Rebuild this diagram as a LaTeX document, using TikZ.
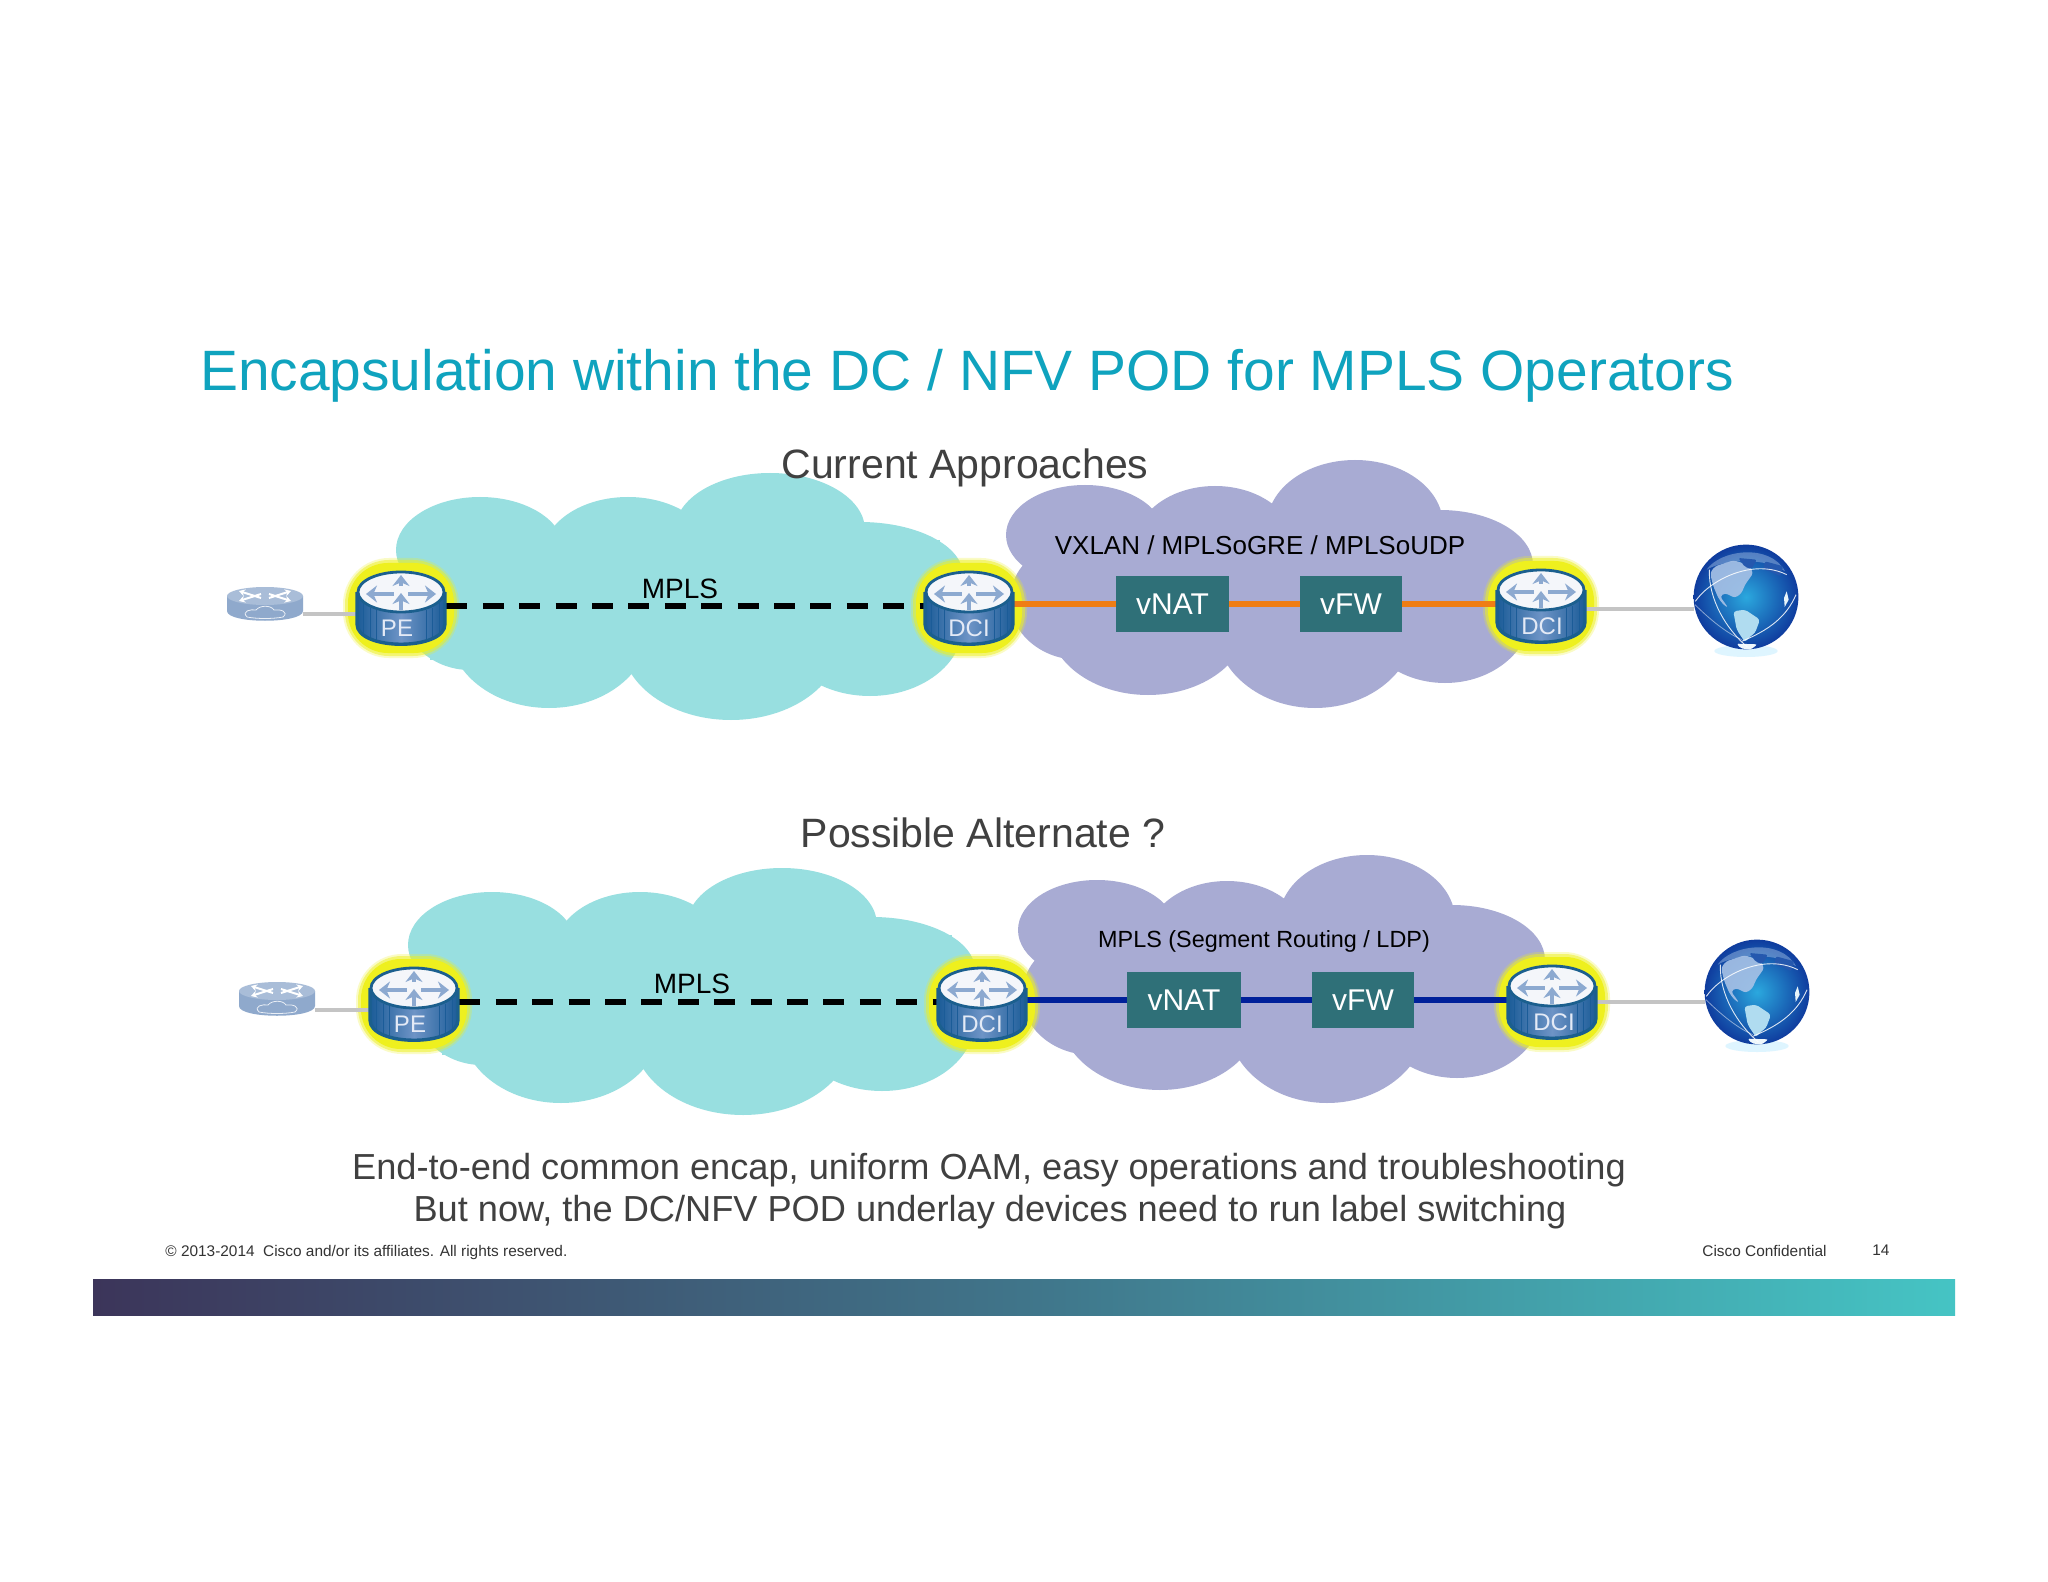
\documentclass[tikz,border=0pt]{standalone}
\usepackage{fontspec}
\setmainfont{Liberation Sans}
\usetikzlibrary{arrows.meta,calc}
\definecolor{teal1}{HTML}{98DFE0}
\definecolor{purple1}{HTML}{A8ABD3}
\definecolor{boxteal}{HTML}{2F7078}
\definecolor{titleblue}{HTML}{0FA3BE}
\definecolor{darktext}{HTML}{404040}
\definecolor{orange1}{HTML}{EF7D14}
\definecolor{navy1}{HTML}{00209A}
\definecolor{halo}{HTML}{EEF01E}
\definecolor{rdark}{HTML}{1B5C98}
\definecolor{rmid}{HTML}{6E94C6}
\definecolor{rrim}{HTML}{1B5F8E}
\definecolor{rarrow}{HTML}{8CA9D0}
\definecolor{rlabel}{HTML}{E4EAF6}
\definecolor{smbody}{HTML}{8FA9CC}
\definecolor{smtop}{HTML}{A9BDD8}
\definecolor{graylink}{HTML}{C4C4C4}
\definecolor{glA}{HTML}{2BA8DE}
\definecolor{glB}{HTML}{0F3C9E}
\definecolor{glC}{HTML}{A8C2E6}
\definecolor{glD}{HTML}{B0DCF0}
\definecolor{glE}{HTML}{2558AE}
\definecolor{barA}{HTML}{3C355A}
\definecolor{barB}{HTML}{40758A}
\definecolor{barC}{HTML}{45C4C4}
\tikzset{
  txt/.style={inner sep=0pt,anchor=base},
  slot/.style={inner sep=0pt,minimum width=45pt,minimum height=38pt},
  smslot/.style={inner sep=0pt,minimum width=38pt,minimum height=17pt},
  globeslot/.style={circle,inner sep=0pt,minimum size=52pt},
  vbox/.style={fill=boxteal,text=white,inner sep=0pt,font=\fontsize{15}{15}\selectfont},
  dashlink/.style={black,line width=2.7pt,dash pattern=on 10.5pt off 7.7pt},
  dashshadow/.style={black,opacity=.22,line width=3pt,dash pattern=on 10.5pt off 7.7pt},
  graylinkst/.style={graylink,line width=2pt},
  colorlink/.style={line width=2.7pt},
  linkshadow/.style={black,opacity=.22,line width=2.7pt},
  rarr/.style={rarrow,line width=2.1pt,-{Stealth[length=5.5pt,width=8.5pt]}},
  sarr/.style={white,line width=1pt,-{Stealth[length=3pt,width=3.5pt]}},
}
\newcommand{\tealcloud}{%
  \fill[teal1] (480,550) ellipse[x radius=84,y radius=53];
  \fill[teal1] (628,555) ellipse[x radius=85,y radius=58];
  \fill[teal1] (770,530) ellipse[x radius=95,y radius=57];
  \fill[teal1] (860,575) ellipse[x radius=103,y radius=53];
  \fill[teal1] (870,625) ellipse[x radius=93,y radius=71];
  \fill[teal1] (731,640) ellipse[x radius=110,y radius=80];
  \fill[teal1] (549,630) ellipse[x radius=100,y radius=78];
  \fill[teal1] (470,600) ellipse[x radius=72,y radius=70];
  \fill[teal1] (430,540) rectangle (940,660);}
\newcommand{\purplecloud}{%
  \fill[purple1] (1085,535) ellipse[x radius=79,y radius=50];
  \fill[purple1] (1215,545) ellipse[x radius=80,y radius=59];
  \fill[purple1] (1355,525) ellipse[x radius=88,y radius=65];
  \fill[purple1] (1440,565) ellipse[x radius=93,y radius=55];
  \fill[purple1] (1445,610) ellipse[x radius=87,y radius=73];
  \fill[purple1] (1315,625) ellipse[x radius=100,y radius=83];
  \fill[purple1] (1148,620) ellipse[x radius=100,y radius=75];
  \fill[purple1] (1080,600) ellipse[x radius=70,y radius=60];
  \fill[purple1] (1060,540) rectangle (1510,650);}
\newcommand{\routerhalo}[1]{%
  \begin{scope}[shift={(#1)}]
   \fill[halo,opacity=.25,rounded corners=23pt] (-58,-48) rectangle (58,52);
   \fill[halo,opacity=.5,rounded corners=22pt] (-56,-46) rectangle (56,50);
   \fill[halo,rounded corners=20pt] (-53,-43) rectangle (53,47);
  \end{scope}}
\newcommand{\routerbody}[3]{%
  \begin{scope}[shift={(#1)}]
   \shade[left color=rdark,right color=rdark,middle color=rmid]
     (-44,-14) -- (-44,18) .. controls (-44,45) and (44,45) .. (44,18) -- (44,-14) -- cycle;
   \foreach \xa/\ya/\yb in {-38/-3/29,-31/2/33,-25/4/36,25/4/36,31/2/33,38/-3/29}
     \draw[rdark,line width=.5pt] (\xa,\ya) -- (\xa,\yb);
   \draw[rrim,line width=1.7pt]
     (-44,-14) -- (-44,18) .. controls (-44,45) and (44,45) .. (44,18) -- (44,-14);
   \fill[white!92!rmid,draw=rrim,line width=1.4pt] (0,-14) ellipse[x radius=43,y radius=20];
   \draw[rarr] (-7,-12) -- (-35,-12);
   \draw[rarr] (7,-12) -- (35,-12);
   \draw[rarr] (0,4) -- (0,-13);
   \draw[rarr] (0,-20) -- (0,-31);
   \node[txt,anchor=center,text=rlabel,font=\fontsize{12}{12}\selectfont] (#1-label) at (#3,22) {#2};
  \end{scope}}
\newcommand{\smallrouter}[1]{%
  \begin{scope}[shift={(#1)}]
   \fill[smbody] (-38,-8) -- (-38,7) .. controls (-38,20) and (38,20) .. (38,7) -- (38,-8) -- cycle;
   \fill[smtop] (0,-8) ellipse[x radius=38,y radius=9];
   \draw[sarr] (-4,-6) -- (-26,-13);
   \draw[sarr] (4,-6) -- (26,-13);
   \draw[sarr] (-4,-10) -- (-26,-3);
   \draw[sarr] (4,-10) -- (26,-3);
   \draw[white!80!smbody,line width=.4pt] (-18,13) .. controls (-24,7) and (-14,5) .. (-9,6)
     .. controls (-5,1) and (6,1) .. (9,6) .. controls (16,5) and (24,8) .. (18,13)
     .. controls (8,15) and (-8,15) .. (-18,13);
  \end{scope}}
\newcommand{\globeicon}[1]{%
  \begin{scope}[shift={(#1)},x=.16667pt,y=-.16667pt,shift={(-228,-202)}]
   \fill[blue!30!cyan!18,opacity=.7] (228,364) ellipse[x radius=95,y radius=18];
   \shade[inner color=glA,outer color=glB] (228,202) circle[radius=26.2pt];
   \fill[glC,opacity=.45] (110,120) .. controls (150,60) and (300,40) .. (345,125)
      .. controls (290,85) and (170,85) .. (110,120) -- cycle;
   \fill[glC,opacity=.9,rounded corners=1.5pt] (135,110) -- (190,92) -- (235,105) -- (250,130) -- (225,165) -- (215,190)
      -- (195,205) -- (165,190) -- (150,200) -- (175,235) -- (160,225) -- (145,205)
      -- (130,170) -- (120,130) -- cycle;
   \fill[glE,rounded corners=1pt] (205,85) -- (260,90) -- (245,118) -- (225,112) -- cycle;
   \fill[glE,rounded corners=1pt] (285,95) -- (340,110) -- (330,140) -- (300,125) -- (280,120) -- cycle;
   \fill[glD,rounded corners=1.5pt] (190,245) -- (225,240) -- (270,270) -- (255,310) -- (235,325) -- (225,338) -- (200,300) -- cycle;
   \fill[white!80!glD,rounded corners=1pt] (200,342) -- (262,344) -- (242,360) -- (212,356) -- cycle;
   \fill[white!70!glD] (350,185) -- (356,210) -- (344,232) -- (342,205) -- cycle;
   \draw[white,opacity=.85,line width=.45pt] (118,120) .. controls (115,210) and (170,300) .. (232,352);
   \draw[white,opacity=.85,line width=.45pt] (76,215) .. controls (120,150) and (250,85) .. (350,135);
   \draw[white,opacity=.85,line width=.45pt] (215,335) .. controls (300,300) and (350,260) .. (378,195);
   \draw[white,opacity=.5,line width=.4pt] (75,225) .. controls (120,270) and (170,310) .. (215,330);
  \end{scope}}
\begin{document}
\begin{tikzpicture}[x=.5pt,y=-.5pt]
\path[use as bounding box,fill=white] (0,0) rectangle (2048,1582);
% clouds
\tealcloud
\purplecloud
\begin{scope}[shift={(12,395)}]
 \tealcloud
 \purplecloud
\end{scope}
% anchors
\node[smslot] (sr1) at (265,604) {};
\node[slot] (pe1) at (401,606) {};
\node[slot] (dci1) at (969,606) {};
\node[slot] (dci2) at (1541,604) {};
\node[globeslot] (globe1) at (1746,597) {};
\node[smslot] (sr2) at (277,999) {};
\node[slot] (pe2) at (414,1002) {};
\node[slot] (dci3) at (982,1002) {};
\node[slot] (dci4) at (1552,1000) {};
\node[globeslot] (globe2) at (1757,992) {};
% halos
\routerhalo{pe1}\routerhalo{dci1}\routerhalo{dci2}
\routerhalo{pe2}\routerhalo{dci3}\routerhalo{dci4}
% service boxes
\node[vbox,minimum width=56.5pt,minimum height=28pt] (vnat1) at (1172.5,604) {vNAT};
\node[vbox,minimum width=51pt,minimum height=28pt] (vfw1) at (1351,604) {vFW};
\node[vbox,minimum width=57pt,minimum height=28pt] (vnat2) at (1184,1000) {vNAT};
\node[vbox,minimum width=51pt,minimum height=28pt] (vfw2) at (1363,1000) {vFW};
% links
\draw[graylinkst] ($(sr1.east)+(0,10)$) -- ($(pe1.west)+(0,8)$);
\draw[graylinkst] ($(sr2.east)+(0,11)$) -- ($(pe2.west)+(0,8)$);
\draw[graylinkst] ($(dci2.east)+(0,5)$) -- ($(globe1.west)+(0,12)$);
\draw[graylinkst] ($(dci4.east)+(0,2)$) -- ($(globe2.west)+(0,10)$);
\begin{scope}[yshift=-1.6pt]
 \draw[dashshadow] (pe1.east) -- (dci1.west);
 \draw[dashshadow] (pe2.east) -- (dci3.west);
 \draw[linkshadow] (dci1.east |- vnat1) -- (vnat1.west);
 \draw[linkshadow] (vnat1) -- (vfw1);
 \draw[linkshadow] (vfw1) -- (dci2);
 \draw[linkshadow] (dci3.east |- vnat2) -- (vnat2.west);
 \draw[linkshadow] (vnat2) -- (vfw2);
 \draw[linkshadow] (vfw2) -- (dci4);
\end{scope}
\draw[dashlink] (pe1.east) -- (dci1.west);
\draw[dashlink] (pe2.east) -- (dci3.west);
\draw[colorlink,orange1] (dci1.east |- vnat1) -- (vnat1.west);
\draw[colorlink,orange1] (vnat1) -- (vfw1);
\draw[colorlink,orange1] (vfw1) -- (dci2);
\draw[colorlink,navy1] (dci3.east |- vnat2) -- (vnat2.west);
\draw[colorlink,navy1] (vnat2) -- (vfw2);
\draw[colorlink,navy1] (vfw2) -- (dci4);
% icons
\smallrouter{sr1}\smallrouter{sr2}
\routerbody{pe1}{PE}{-4}\routerbody{dci1}{DCI}{0}\routerbody{dci2}{DCI}{1}
\routerbody{pe2}{PE}{-4}\routerbody{dci3}{DCI}{0}\routerbody{dci4}{DCI}{2}
\globeicon{globe1}\globeicon{globe2}
% text
\node[txt,text=titleblue,font=\fontsize{28.45}{29}\selectfont] (title) at (967,391)
  {Encapsulation within the DC / NFV POD for MPLS Operators};
\node[txt,text=darktext,font=\fontsize{20.5}{20.5}\selectfont] (head1) at (965,479) {Current Approaches};
\node[txt,text=darktext,font=\fontsize{20.5}{20.5}\selectfont] (head2) at (983,847) {Possible Alternate ?};
\node[txt,font=\fontsize{14}{14}\selectfont] (mpls1) at (680,598) {MPLS};
\node[txt,font=\fontsize{14}{14}\selectfont] (mpls2) at (692,993) {MPLS};
\node[txt,font=\fontsize{13}{13}\selectfont] (encap1) at (1260,555) {VXLAN / MPLSoGRE / MPLSoUDP};
\node[txt,font=\fontsize{11.7}{12}\selectfont] (encap2) at (1264,947) {MPLS (Segment Routing / LDP)};
\node[txt,text=darktext,font=\fontsize{18.1}{18}\selectfont] (sum1) at (989,1179)
  {End-to-end common encap, uniform OAM, easy operations and troubleshooting};
\node[txt,text=darktext,font=\fontsize{18.1}{18}\selectfont] (sum2) at (990,1221)
  {But now, the DC/NFV POD underlay devices need to run label switching};
% footer
\node[txt,anchor=base west,text=black!80,font=\fontsize{7.7}{8}\selectfont] (copy) at (165,1256)
  {© 2013-2014\ \ Cisco and/or its affiliates. All rights reserved.};
\node[txt,anchor=base west,text=black!80,font=\fontsize{7.7}{8}\selectfont] (conf) at (1702,1256) {Cisco Confidential};
\node[txt,anchor=base west,text=black!80,font=\fontsize{7.7}{8}\selectfont] (page) at (1872,1255) {14};
\shade[left color=barA,right color=barC,middle color=barB] (93,1279) rectangle (1955,1315);
\end{tikzpicture}
\end{document}
